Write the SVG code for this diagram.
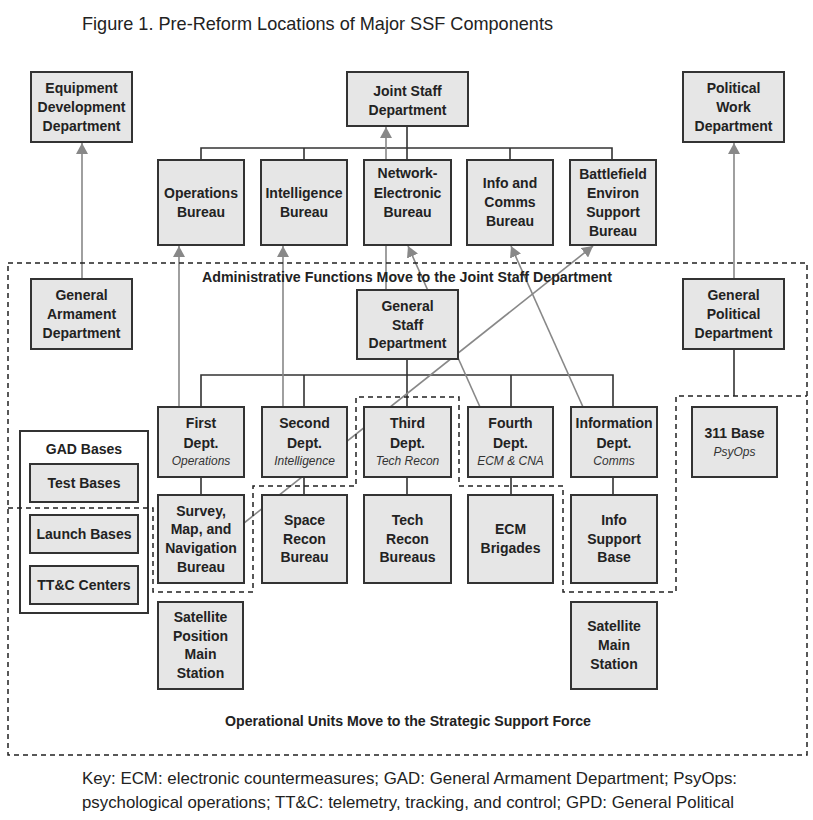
<svg xmlns="http://www.w3.org/2000/svg" width="813" height="820" viewBox="0 0 813 820">
<defs>
<style>
.box{fill:#e6e6e6;stroke:#333;stroke-width:2}
.wbox{fill:#fff;stroke:#333;stroke-width:2}
.t{font-family:"Liberation Sans",Arial,sans-serif;font-weight:bold;font-size:14px;fill:#222;text-anchor:middle}
.i{font-family:"Liberation Sans",Arial,sans-serif;font-style:italic;font-size:12px;fill:#333;text-anchor:middle}
.plain{font-family:"Liberation Sans",Arial,sans-serif;fill:#222}
.con{fill:none;stroke:#333;stroke-width:1.6}
.arr{fill:none;stroke:#888;stroke-width:1.6;marker-end:url(#ah)}
.dash{fill:none;stroke:#222;stroke-width:1.5;stroke-dasharray:5 4}
</style>
<marker id="ah" viewBox="0 0 11 12" refX="11" refY="6" markerWidth="11" markerHeight="12" markerUnits="userSpaceOnUse" orient="auto">
<path d="M0,0 L11,6 L0,12 Z" fill="#888"/>
</marker>
</defs>
<rect width="813" height="820" fill="#fff"/>
<text class="plain" x="82" y="30" font-size="19" textLength="471" lengthAdjust="spacingAndGlyphs">Figure 1. Pre-Reform Locations of Major SSF Components</text>

<g id="connectors">
<path class="con" d="M407,126 V148 M201,160 V148 H612 V160 M304,148 V160 M407,148 V160 M510,148 V160"/>
<path class="con" d="M407,359 V375 M201,407 V375 H613 V407 M304,375 V407 M407,375 V407 M511,375 V407"/>
<path class="con" d="M201,477 V495 M304,477 V495 M407,477 V495 M511,477 V495 M613,477 V495"/>
<path class="con" d="M734,349 V396"/>
<line class="arr" x1="82" y1="279" x2="82" y2="143"/>
<line class="arr" x1="734" y1="279" x2="734" y2="143"/>
<line class="arr" x1="179" y1="407" x2="179" y2="246"/>
<line class="arr" x1="283" y1="407" x2="283" y2="246"/>
<line class="arr" x1="386" y1="290" x2="386" y2="127"/>
<line class="arr" x1="480" y1="407" x2="408" y2="246"/>
<line class="arr" x1="583" y1="407" x2="511" y2="246"/>
<line class="arr" x1="244" y1="523" x2="593" y2="246"/>
</g>

<g id="equipment-development-department"><rect class="box" x="31" y="72" width="101" height="70"/>
<text class="t" x="81.5" y="93">Equipment</text><text class="t" x="81.5" y="112">Development</text><text class="t" x="81.5" y="131">Department</text></g>
<g id="joint-staff-department"><rect class="box" x="347" y="72" width="121" height="54"/>
<text class="t" x="407.5" y="96">Joint Staff</text><text class="t" x="407.5" y="115">Department</text></g>
<g id="political-work-department"><rect class="box" x="683" y="72" width="101" height="70"/>
<text class="t" x="733.5" y="93">Political</text><text class="t" x="733.5" y="112">Work</text><text class="t" x="733.5" y="131">Department</text></g>

<g id="operations-bureau"><rect class="box" x="158" y="160" width="86" height="85"/>
<text class="t" x="201" y="198">Operations</text><text class="t" x="201" y="217">Bureau</text></g>
<g id="intelligence-bureau"><rect class="box" x="261" y="160" width="86" height="85"/>
<text class="t" x="304" y="198">Intelligence</text><text class="t" x="304" y="217">Bureau</text></g>
<g id="network-electronic-bureau"><rect class="box" x="364" y="160" width="87" height="85"/>
<text class="t" x="407.5" y="178">Network-</text><text class="t" x="407.5" y="198">Electronic</text><text class="t" x="407.5" y="217">Bureau</text></g>
<g id="info-comms-bureau"><rect class="box" x="467" y="160" width="86" height="85"/>
<text class="t" x="510" y="188">Info and</text><text class="t" x="510" y="207">Comms</text><text class="t" x="510" y="226">Bureau</text></g>
<g id="battlefield-environ-support-bureau"><rect class="box" x="570" y="160" width="86" height="85"/>
<text class="t" x="613" y="179">Battlefield</text><text class="t" x="613" y="198">Environ</text><text class="t" x="613" y="217">Support</text><text class="t" x="613" y="236">Bureau</text></g>

<g id="general-armament-department"><rect class="box" x="31" y="279" width="101" height="70"/>
<text class="t" x="81.5" y="300">General</text><text class="t" x="81.5" y="319">Armament</text><text class="t" x="81.5" y="338">Department</text></g>
<g id="general-staff-department"><rect class="box" x="357" y="290" width="101" height="69"/>
<text class="t" x="407.5" y="311">General</text><text class="t" x="407.5" y="330">Staff</text><text class="t" x="407.5" y="348">Department</text></g>
<g id="general-political-department"><rect class="box" x="683" y="279" width="101" height="70"/>
<text class="t" x="733.5" y="300">General</text><text class="t" x="733.5" y="319">Political</text><text class="t" x="733.5" y="338">Department</text></g>

<g id="first-dept"><rect class="box" x="158" y="407" width="86" height="70"/>
<text class="t" x="201" y="428">First</text><text class="t" x="201" y="448">Dept.</text><text class="i" x="201" y="465">Operations</text></g>
<g id="second-dept"><rect class="box" x="262" y="407" width="85" height="70"/>
<text class="t" x="304.5" y="428">Second</text><text class="t" x="304.5" y="448">Dept.</text><text class="i" x="304.5" y="465">Intelligence</text></g>
<g id="third-dept"><rect class="box" x="364" y="407" width="87" height="70"/>
<text class="t" x="407.5" y="428">Third</text><text class="t" x="407.5" y="448">Dept.</text><text class="i" x="407.5" y="465">Tech Recon</text></g>
<g id="fourth-dept"><rect class="box" x="468" y="407" width="85" height="70"/>
<text class="t" x="510.5" y="428">Fourth</text><text class="t" x="510.5" y="448">Dept.</text><text class="i" x="510.5" y="465">ECM &amp; CNA</text></g>
<g id="information-dept"><rect class="box" x="571" y="407" width="86" height="70"/>
<text class="t" x="614" y="428">Information</text><text class="t" x="614" y="448">Dept.</text><text class="i" x="614" y="465">Comms</text></g>
<g id="base-311"><rect class="box" x="692" y="407" width="85" height="70"/>
<text class="t" x="734.5" y="438">311 Base</text><text class="i" x="734.5" y="456">PsyOps</text></g>

<g id="survey-map-navigation-bureau"><rect class="box" x="158" y="495" width="86" height="88"/>
<text class="t" x="201" y="516">Survey,</text><text class="t" x="201" y="534">Map, and</text><text class="t" x="201" y="553">Navigation</text><text class="t" x="201" y="572">Bureau</text></g>
<g id="space-recon-bureau"><rect class="box" x="262" y="495" width="85" height="88"/>
<text class="t" x="304.5" y="525">Space</text><text class="t" x="304.5" y="544">Recon</text><text class="t" x="304.5" y="562">Bureau</text></g>
<g id="tech-recon-bureaus"><rect class="box" x="364" y="495" width="87" height="88"/>
<text class="t" x="407.5" y="525">Tech</text><text class="t" x="407.5" y="544">Recon</text><text class="t" x="407.5" y="562">Bureaus</text></g>
<g id="ecm-brigades"><rect class="box" x="468" y="495" width="85" height="88"/>
<text class="t" x="510.5" y="534">ECM</text><text class="t" x="510.5" y="553">Brigades</text></g>
<g id="info-support-base"><rect class="box" x="571" y="495" width="86" height="88"/>
<text class="t" x="614" y="525">Info</text><text class="t" x="614" y="544">Support</text><text class="t" x="614" y="562">Base</text></g>

<g id="satellite-position-main-station"><rect class="box" x="158" y="602" width="85" height="87"/>
<text class="t" x="200.5" y="622">Satellite</text><text class="t" x="200.5" y="641">Position</text><text class="t" x="200.5" y="659">Main</text><text class="t" x="200.5" y="678">Station</text></g>
<g id="satellite-main-station"><rect class="box" x="571" y="602" width="86" height="87"/>
<text class="t" x="614" y="631">Satellite</text><text class="t" x="614" y="650">Main</text><text class="t" x="614" y="669">Station</text></g>

<g id="gad-bases"><rect class="wbox" x="20" y="431" width="128" height="182"/>
<text class="t" x="84" y="454">GAD Bases</text></g>
<g id="test-bases"><rect class="box" x="30" y="464" width="108" height="38"/><text class="t" x="84" y="488">Test Bases</text></g>
<g id="launch-bases"><rect class="box" x="30" y="515" width="108" height="38"/><text class="t" x="84" y="539">Launch Bases</text></g>
<g id="ttc-centers"><rect class="box" x="30" y="566" width="108" height="38"/><text class="t" x="84" y="590">TT&amp;C Centers</text></g>

<g id="regions">
<rect class="dash" x="8" y="263" width="799" height="492"/>
<path class="dash" d="M8,508 H153 V592 H253 V486 H356 V397 H459 V486 H563 V592 H676 V396 H807"/>
<text class="t" x="407" y="282" textLength="410" lengthAdjust="spacingAndGlyphs">Administrative Functions Move to the Joint Staff Department</text>
<text class="t" x="408" y="726" textLength="366" lengthAdjust="spacingAndGlyphs">Operational Units Move to the Strategic Support Force</text>
</g>

<text class="plain" x="82" y="784" font-size="17" textLength="655" lengthAdjust="spacingAndGlyphs">Key: ECM: electronic countermeasures; GAD: General Armament Department; PsyOps:</text>
<text class="plain" x="82" y="808" font-size="17" textLength="652" lengthAdjust="spacingAndGlyphs">psychological operations; TT&amp;C: telemetry, tracking, and control; GPD: General Political</text>
</svg>
